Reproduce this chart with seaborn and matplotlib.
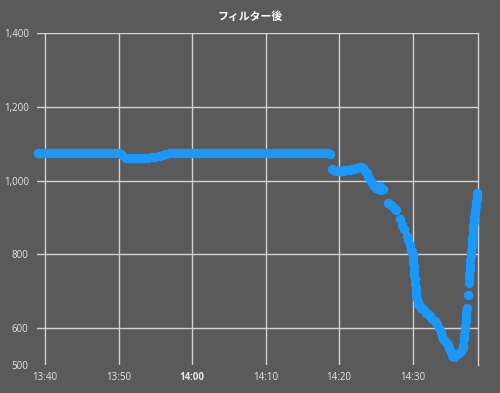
import matplotlib
matplotlib.use("Agg")
import matplotlib.pyplot as plt
import matplotlib.dates as mdates
from matplotlib.ticker import FuncFormatter
import pandas as pd
import seaborn as sns

# ---- data: minutes after 13:00 and value ----
flat_minutes = [
    39.0, 39.5, 40.0, 40.5, 41.0, 41.5, 42.0, 42.5, 43.0, 43.5,
    44.0, 44.5, 45.0, 45.5, 46.0, 46.5, 47.0, 47.5, 48.0, 48.5,
    49.0, 49.5, 50.0, 50.5, 51.0, 51.5, 52.0, 52.5, 53.0, 53.5,
    54.0, 54.5, 55.0, 55.5, 56.0, 56.5, 57.0, 57.5, 58.0, 58.5,
    59.0, 59.5, 60.0, 60.5, 61.0, 61.5, 62.0, 62.5, 63.0, 63.5,
    64.0, 64.5, 65.0, 65.5, 66.0, 66.5, 67.0, 67.5, 68.0, 68.5,
    69.0, 69.5, 70.0, 70.5, 71.0, 71.5, 72.0, 72.5, 73.0, 73.5,
    74.0, 74.5, 75.0, 75.5, 76.0, 76.5, 77.0, 77.5, 78.0, 78.5,
    78.8,
]
flat_values = [
    1074, 1074, 1074, 1074, 1074, 1074, 1074, 1074, 1074, 1074,
    1074, 1074, 1074, 1074, 1074, 1074, 1074, 1074, 1074, 1074,
    1074, 1074, 1074, 1068, 1062, 1061, 1061, 1061, 1061, 1062,
    1062, 1063, 1065, 1067, 1070, 1072, 1074, 1074, 1074, 1074,
    1074, 1074, 1074, 1074, 1074, 1074, 1074, 1074, 1074, 1074,
    1074, 1074, 1074, 1074, 1074, 1074, 1074, 1074, 1074, 1074,
    1074, 1074, 1074, 1074, 1074, 1074, 1074, 1074, 1074, 1074,
    1074, 1074, 1074, 1074, 1074, 1074, 1074, 1074, 1074, 1074,
    1072,
]
drop_minutes = [
    79.0, 79.25, 79.5, 79.75, 80.0, 80.25, 80.5, 80.75, 81.0, 81.25,
    81.5, 81.75, 82.0, 82.25, 82.5, 82.75, 83.0, 83.25, 83.5, 83.75,
    84.0, 84.25, 84.5, 84.75, 85.0, 85.25, 85.5, 85.75, 86.0, 86.7,
    87.0, 87.5, 87.8, 88.3, 88.6, 88.9, 89.2, 89.4, 89.6, 89.8,
    89.9, 90.0, 90.05, 90.1, 90.15, 90.2, 90.25, 90.3, 90.35, 90.4,
    90.45, 90.5, 90.6, 90.7, 90.8, 91.0, 91.2,
    91.5, 91.8, 92.1, 92.4, 92.7, 93.0, 93.3, 93.6, 93.8, 94.0,
    94.2, 94.5, 94.8, 95.0, 95.2, 95.4, 95.6, 95.8, 96.0, 96.3,
    96.6, 96.8, 96.9, 97.0, 97.05, 97.1, 97.15, 97.2, 97.25, 97.3,
    97.35, 97.5, 97.62, 97.67, 97.72, 97.77, 97.82, 97.87, 97.92, 97.97,
    98.02, 98.07, 98.12, 98.17, 98.22, 98.28, 98.34, 98.4, 98.46, 98.52,
    98.58, 98.64, 98.7, 98.76, 98.82,
]
drop_values = [
    1032, 1028, 1026, 1025, 1026, 1027, 1027, 1028, 1028, 1029,
    1030, 1031, 1031, 1033, 1034, 1036, 1036, 1033, 1026, 1020,
    1012, 1002, 993, 986, 980, 976, 984, 975, 978, 940,
    935, 925, 920, 895, 880, 870, 850, 840, 825, 812,
    806, 798, 790, 780, 768, 756, 744, 732, 720, 708,
    698, 690, 680, 672, 666, 660, 655,
    648, 642, 638, 632, 625, 618, 610, 600, 590, 578,
    570, 562, 555, 545, 535, 525, 522, 527, 530, 533,
    537, 545, 555, 570, 582, 595, 607, 620, 630, 642,
    655, 690, 722, 735, 748, 760, 772, 785, 797, 810,
    822, 833, 845, 856, 867, 878, 889, 900, 911, 921,
    931, 941, 950, 958, 965,
]
y_ticks = [500, 600, 800, 1000, 1200, 1400]
title_text = "フィルター後"

# ---- style ----
bg = "#5a5a5a"
blue = "#1b98fc"
grid_c = "#d4d4d4"
text_c = "#e6e6e6"

base = pd.Timestamp("2020-01-01 13:00")
minutes = flat_minutes + drop_minutes
values = flat_values + drop_values
df = pd.DataFrame({
    "time": [base + pd.Timedelta(minutes=m) for m in minutes],
    "value": values,
})

sns.set_theme(style="dark")
plt.rcParams["font.family"] = ["Open Sans", "Noto Sans CJK JP", "DejaVu Sans"]

fig = plt.figure(figsize=(5.0, 3.93), dpi=100, facecolor=bg)
ax = fig.add_axes([0.074, 0.0712, 0.882, 0.8448])
ax.set_facecolor(bg)

sns.scatterplot(data=df, x="time", y="value", ax=ax, s=46, color=blue,
                linewidth=0, edgecolor=None, zorder=3, clip_on=False)

ax.set_ylim(500, 1400)
ax.set_yticks(y_ticks)
ax.yaxis.set_major_formatter(FuncFormatter(lambda v, p: f"{int(v):,}"))
ax.set_xlim(base + pd.Timedelta(minutes=38.9), base + pd.Timedelta(minutes=98.9))
ax.xaxis.set_major_locator(mdates.MinuteLocator(byminute=[0, 10, 20, 30, 40, 50]))
ax.xaxis.set_major_formatter(mdates.DateFormatter("%H:%M"))

ax.set_xlabel("")
ax.set_ylabel("")
ax.grid(True, color=grid_c, linewidth=1.0, zorder=0)
ax.set_axisbelow(True)
ax.yaxis.get_gridlines()[0].set_visible(False)

for side in ["left", "top", "bottom"]:
    ax.spines[side].set_visible(False)
ax.spines["right"].set_visible(True)
ax.spines["right"].set_color(grid_c)
ax.spines["right"].set_linewidth(1.0)

ax.tick_params(axis="both", length=0, colors=text_c, labelsize=7)
ax.tick_params(axis="y", pad=6)
ax.tick_params(axis="x", pad=5)
fig.canvas.draw()
for lab in ax.get_xticklabels():
    if lab.get_text() == "14:00":
        lab.set_fontweight("bold")

fig.text(0.5, 1 - 17 / 393, title_text, ha="center", va="center",
         color="white", fontsize=7.8, fontweight="bold",
         family=["Noto Sans CJK JP", "DejaVu Sans"])

fig.savefig("out.png", dpi=100, facecolor=bg)
